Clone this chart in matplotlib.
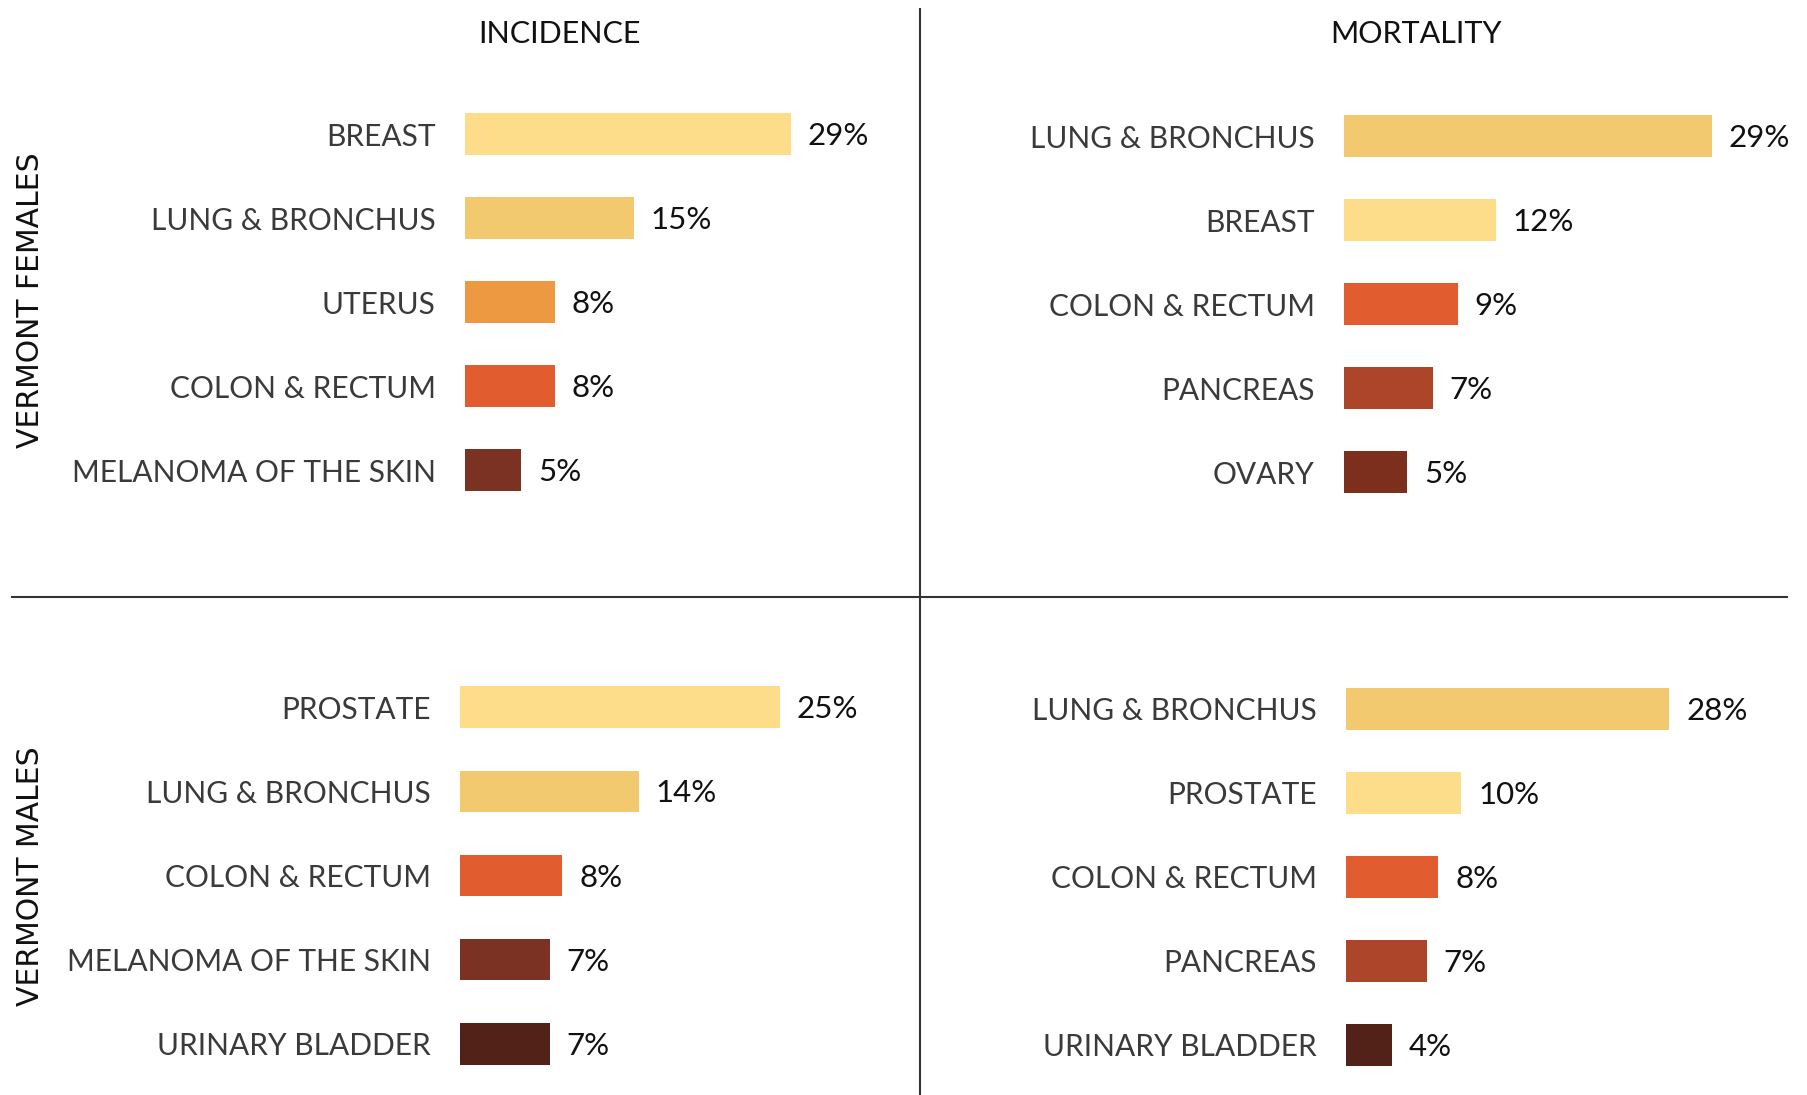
import matplotlib.pyplot as plt
from matplotlib.lines import Line2D

# data
fem_inc_sites = ["BREAST", "LUNG & BRONCHUS", "UTERUS", "COLON & RECTUM", "MELANOMA OF THE SKIN"]
fem_inc_vals = [29, 15, 8, 8, 5]
fem_mort_sites = ["LUNG & BRONCHUS", "BREAST", "COLON & RECTUM", "PANCREAS", "OVARY"]
fem_mort_vals = [29, 12, 9, 7, 5]
male_inc_sites = ["PROSTATE", "LUNG & BRONCHUS", "COLON & RECTUM", "MELANOMA OF THE SKIN", "URINARY BLADDER"]
male_inc_vals = [25, 14, 8, 7, 7]
male_mort_sites = ["LUNG & BRONCHUS", "PROSTATE", "COLON & RECTUM", "PANCREAS", "URINARY BLADDER"]
male_mort_vals = [28, 10, 8, 7, 4]

site_colors = {
    "BREAST": "#fddd8a",
    "PROSTATE": "#fddd8a",
    "LUNG & BRONCHUS": "#f2c96e",
    "UTERUS": "#ec9941",
    "COLON & RECTUM": "#e15c2e",
    "MELANOMA OF THE SKIN": "#7b3222",
    "PANCREAS": "#ac4529",
    "OVARY": "#7b2f1c",
    "URINARY BLADDER": "#522219",
}

W, H = 1808, 1095
fig = plt.figure(figsize=(W / 100, H / 100), dpi=100)
fig.patch.set_facecolor("white")


def panel(sites, vals, bar_left, px_per_pct, y_top, y_bot, width=420):
    ax = fig.add_axes([bar_left / W, 1 - y_bot / H, width / W, (y_bot - y_top) / H])
    colors = [site_colors[s] for s in sites]
    ax.barh(range(len(sites)), vals, height=0.49, color=colors)
    ax.set_xlim(0, width / px_per_pct)
    ax.set_ylim(len(sites) - 0.5, -0.5)
    ax.set_yticks(range(len(sites)))
    ax.set_yticklabels(sites, family="Lato", fontweight="normal", fontsize=21.5, color="#3a3a3a")
    ax.tick_params(axis="y", length=0, pad=21)
    ax.set_xticks([])
    for sp in ax.spines.values():
        sp.set_visible(False)
    ax.patch.set_alpha(0)
    for i, v in enumerate(vals):
        ax.annotate(f"{v}%", (v, i), xytext=(12, -1.5), textcoords="offset points",
                    va="center", ha="left", family="Lato", fontsize=22.5, color="#111111")
    return ax


panel(fem_inc_sites, fem_inc_vals, 465, 11.24, 92, 512)
panel(fem_mort_sites, fem_mort_vals, 1344, 12.68, 94, 514)
panel(male_inc_sites, male_inc_vals, 460, 12.8, 665, 1086)
panel(male_mort_sites, male_mort_vals, 1346, 11.55, 667, 1087)

# column titles
fig.text(559 / W, 1 - 34 / H, "INCIDENCE", ha="center", va="center", family="Lato", fontsize=22, color="#111111")
fig.text(1416 / W, 1 - 34 / H, "MORTALITY", ha="center", va="center", family="Lato", fontsize=22, color="#111111")

# row titles
fig.text(31 / W, 1 - 300 / H, "VERMONT FEMALES", rotation=90, ha="center", va="center",
         family="DejaVu Sans", fontsize=21.5, color="#111111")
fig.text(31 / W, 1 - 876 / H, "VERMONT MALES", rotation=90, ha="center", va="center",
         family="DejaVu Sans", fontsize=21.5, color="#111111")

# divider lines
fig.add_artist(Line2D([920 / W, 920 / W], [1 - 9 / H, 0], color="#333333", lw=1.5))
fig.add_artist(Line2D([12 / W, 1787 / W], [1 - 597 / H, 1 - 597 / H], color="#333333", lw=1.5))

fig.savefig("out.png", dpi=100)
